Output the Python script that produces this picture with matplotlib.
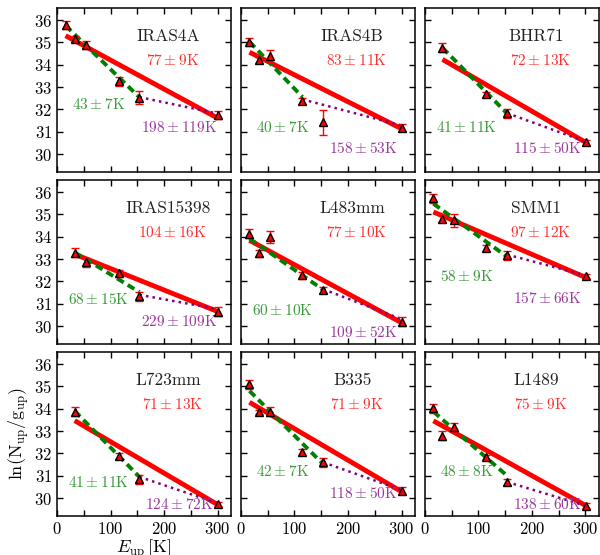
import numpy as np
import matplotlib.pyplot as plt
from matplotlib.ticker import MultipleLocator

plt.rcParams.update({
    "font.family": "serif",
    "font.serif": ["cmr10"],
    "mathtext.fontset": "cm",
    "axes.formatter.use_mathtext": True,
    "axes.linewidth": 1.1,
})

nan = np.nan

sources = ["IRAS4A", "IRAS4B", "BHR71",
           "IRAS15398", "L483mm", "SMM1",
           "L723mm", "B335", "L1489"]
e_up = [16, 33, 55, 115, 154, 301]

# ln(N_up/g_up) per source, nan where the line is not used
ln_nu = [
    [35.78, 35.15, 34.90, 33.25, 32.53, 31.76],  # IRAS4A
    [35.03, 34.21, 34.39, 32.38, 31.42, 31.19],  # IRAS4B
    [nan, 34.76, nan, 32.68, 31.83, 30.52],      # BHR71
    [nan, 33.28, 32.85, 32.36, 31.34, 30.64],    # IRAS15398
    [34.14, 33.25, 33.99, 32.28, 31.61, 30.20],  # L483mm
    [35.73, 34.81, 34.74, 33.50, 33.17, 32.24],  # SMM1
    [nan, 33.87, nan, 31.89, 30.85, 29.74],      # L723mm
    [35.09, 33.86, 33.86, 32.07, 31.61, 30.33],  # B335
    [34.02, 32.79, 33.17, 31.83, 30.72, 29.66],  # L1489
]
ln_err = [
    [0.20, 0.15, 0.18, 0.20, 0.30, 0.18],
    [0.18, 0.12, 0.27, 0.15, 0.55, 0.15],
    [nan, 0.20, nan, 0.12, 0.20, 0.10],
    [nan, 0.20, 0.20, 0.15, 0.20, 0.20],
    [0.20, 0.15, 0.27, 0.15, 0.15, 0.20],
    [0.20, 0.15, 0.30, 0.15, 0.20, 0.10],
    [nan, 0.20, nan, 0.15, 0.20, 0.10],
    [0.20, 0.10, 0.20, 0.15, 0.20, 0.15],
    [0.20, 0.20, 0.20, 0.10, 0.15, 0.10],
]

# rotational temperatures (all points / cold part / warm part)
t_all = [77, 83, 72, 104, 77, 97, 71, 71, 75]
t_all_err = [9, 11, 13, 16, 10, 12, 13, 9, 9]
t_cold = [43, 40, 41, 68, 60, 58, 41, 42, 48]
t_cold_err = [7, 7, 11, 15, 10, 9, 11, 7, 8]
t_warm = [198, 158, 115, 229, 109, 157, 124, 118, 138]
t_warm_err = [119, 53, 50, 109, 52, 66, 72, 50, 60]

# fit value at the start of each fitted range, and the point where cold/warm split
all_y0 = [35.30, 34.56, 34.24, 33.22, 33.84, 35.11, 33.47, 34.29, 33.46]
cold_y0 = [35.75, 35.03, 34.76, 33.30, 33.92, 35.48, 33.90, 34.80, 33.87]
warm_y0 = [32.55, 32.45, 31.83, 31.40, 31.65, 33.20, 30.95, 31.60, 30.72]
split_idx = [4, 3, 4, 4, 4, 4, 4, 4, 4]

# label heights for the cold / warm temperatures
cold_lab_y = [32.2, 31.2, 31.2, 31.2, 30.7, 32.2, 30.7, 31.2, 31.2]
warm_lab_y = [31.2, 30.25, 30.25, 30.2, 29.7, 31.25, 29.7, 30.2, 29.7]

fig, axes = plt.subplots(3, 3, figsize=(6, 5.55), sharex=True, sharey=True)
fig.subplots_adjust(left=0.095, right=0.998, bottom=0.0703, top=0.9856,
                    wspace=0.057, hspace=0.049)

for k, ax in enumerate(axes.flat):
    x = np.array(e_up, dtype=float)
    y = np.array(ln_nu[k])
    dy = np.array(ln_err[k])
    ok = ~np.isnan(y)
    xs, ys, dys = x[ok], y[ok], dy[ok]

    # fits
    xa = np.array([xs[0], xs[-1]])
    ax.plot(xa, all_y0[k] - (xa - xa[0]) / t_all[k], color="red", lw=3.5,
            solid_capstyle="butt", zorder=2)
    xc = np.array([xs[0], x[split_idx[k]]])
    ax.plot(xc, cold_y0[k] - (xc - xc[0]) / t_cold[k], color="green", lw=2.8,
            ls=(0, (2, 1.2)), zorder=2.5)
    xw = np.array([x[split_idx[k]], xs[-1]])
    ax.plot(xw, warm_y0[k] - (xw - xw[0]) / t_warm[k], color="purple", lw=1.8,
            ls=":", zorder=2.5)

    ax.errorbar(xs, ys, yerr=dys, fmt="none", ecolor="red", elinewidth=1,
                capsize=3, capthick=1, zorder=3)
    ax.plot(xs, ys, "^", mfc="red", mec="black", ms=6, mew=1, zorder=4)

    ax.text(208, 35.25, sources[k], ha="center", va="center", fontsize=12.5,
            color="#222222")
    ax.text(216, 34.2, rf"${t_all[k]}\pm{t_all_err[k]}$K", ha="center",
            va="center", fontsize=11, color="#ff3030")
    ax.text(78, cold_lab_y[k], rf"${t_cold[k]}\pm{t_cold_err[k]}$K",
            ha="center", va="center", fontsize=11, color="#3a9a3a")
    ax.text(228, warm_lab_y[k], rf"${t_warm[k]}\pm{t_warm_err[k]}$K",
            ha="center", va="center", fontsize=11, color="#9a3a9a")

    ax.set_xlim(0, 325)
    ax.set_ylim(29.2, 36.54)
    ax.xaxis.set_major_locator(MultipleLocator(100))
    ax.xaxis.set_minor_locator(MultipleLocator(50))
    ax.yaxis.set_major_locator(MultipleLocator(1))
    ax.tick_params(which="both", direction="in", top=True, right=True,
                   length=4, width=1, labelsize=12)

axes[2, 0].set_xlabel(r"$E_{\rm up}\,$[K]", fontsize=13, labelpad=0)
axes[2, 0].set_ylabel(r"ln(N$_{\rm up}$/g$_{\rm up}$)", fontsize=13, labelpad=2)

plt.savefig("out.png", dpi=100)
